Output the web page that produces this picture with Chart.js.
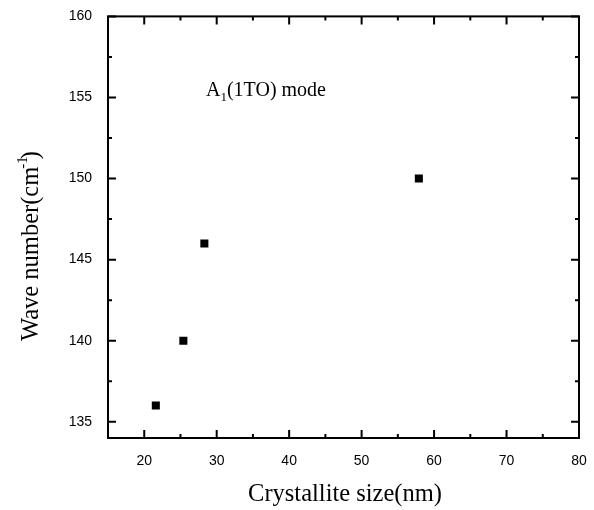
<!DOCTYPE html>
<html>
<head>
<meta charset="utf-8">
<script src="https://cdn.jsdelivr.net/npm/chart.js@4/dist/chart.umd.min.js"></script>
<style>
  html, body { margin: 0; padding: 0; background: #fff; }
  #wrap { width: 594px; height: 510px; position: relative; }
</style>
</head>
<body>
<div id="wrap"><canvas id="c"></canvas></div>
<script>
// 結晶尺寸 vs 波數
const crystalliteSize = [21.6, 25.4, 28.3, 57.9];
const waveNumber      = [136, 140, 146, 150];
const xTicks = [20, 30, 40, 50, 60, 70, 80];
const yTicks = [135, 140, 145, 150, 155, 160];

const SERIF = '"Liberation Serif", "Times New Roman", serif';
const SANS  = '"Liberation Sans", Arial, sans-serif';

// 四邊框線與向內刻度、座標軸標題
const framePlugin = {
  id: 'frame',
  afterDraw(chart) {
    const { ctx, chartArea: a, scales: { x, y } } = chart;
    ctx.save();
    ctx.strokeStyle = '#000';
    ctx.lineWidth = 2;
    ctx.strokeRect(a.left, a.top, a.right - a.left, a.bottom - a.top);

    ctx.beginPath();
    // x 主刻度 + 次刻度
    for (let v = 15; v <= 80; v += 5) {
      const px = x.getPixelForValue(v);
      const len = v % 10 === 0 ? 8 : 4;
      ctx.moveTo(px, a.bottom); ctx.lineTo(px, a.bottom - len);
      ctx.moveTo(px, a.top);    ctx.lineTo(px, a.top + len);
    }
    // y 主刻度 + 次刻度
    for (let v = 135; v <= 160; v += 2.5) {
      const py = y.getPixelForValue(v);
      const len = v % 5 === 0 ? 8 : 4;
      ctx.moveTo(a.left, py);  ctx.lineTo(a.left + len, py);
      ctx.moveTo(a.right, py); ctx.lineTo(a.right - len, py);
    }
    ctx.stroke();

    ctx.fillStyle = '#000';
    // 圖內註記 A1(1TO) mode
    ctx.textBaseline = 'alphabetic';
    ctx.textAlign = 'left';
    let tx = 206;
    ctx.font = '20px ' + SERIF;
    ctx.fillText('A', tx, 96); tx += ctx.measureText('A').width;
    ctx.font = '13px ' + SERIF;
    ctx.fillText('1', tx, 101); tx += ctx.measureText('1').width;
    ctx.font = '20px ' + SERIF;
    ctx.fillText('(1TO) mode', tx, 96);

    // x 標題
    const TF = '24.5px ' + SERIF;
    ctx.font = TF;
    ctx.textAlign = 'center';
    ctx.fillText('Crystallite size(nm)', 345, 501);

    // y 標題（含上標 -1）
    ctx.translate(38, 246);
    ctx.rotate(-Math.PI / 2);
    const main = 'Wave number(cm';
    ctx.font = TF;
    const wMain = ctx.measureText(main).width;
    ctx.font = '15px ' + SERIF;
    const wSup = ctx.measureText('-1').width;
    ctx.font = TF;
    const wClose = ctx.measureText(')').width;
    let sx = -(wMain + wSup * 0.6 + wClose) / 2;
    ctx.textAlign = 'left';
    ctx.fillText(main, sx, 0); sx += wMain;
    ctx.font = '15px ' + SERIF;
    ctx.fillText('-1', sx - 2, -11);
    ctx.font = TF;
    ctx.fillText(')', sx + wSup * 0.6, 0);
    ctx.restore();
  }
};

new Chart(document.getElementById('c'), {
  type: 'scatter',
  data: {
    datasets: [{
      data: crystalliteSize.map((v, i) => ({ x: v, y: waveNumber[i] })),
      pointStyle: 'rect',
      pointRadius: 5.7,
      pointHoverRadius: 5.7,
      backgroundColor: '#000',
      borderColor: '#000',
      borderWidth: 0
    }]
  },
  options: {
    responsive: true,
    maintainAspectRatio: false,
    animation: false,
    layout: { padding: { top: 16, right: 15, left: 0, bottom: 0 } },
    plugins: { legend: { display: false }, tooltip: { enabled: false } },
    scales: {
      x: {
        type: 'linear', min: 15, max: 80,
        afterFit: s => { s.height = 72; },
        afterBuildTicks: s => { s.ticks = xTicks.map(v => ({ value: v })); },
        grid: { display: false },
        border: { display: false },
        ticks: { color: '#000', padding: 7, font: { family: SANS, size: 14 } }
      },
      y: {
        type: 'linear', min: 134, max: 160,
        afterFit: s => { s.width = 108; },
        afterBuildTicks: s => { s.ticks = yTicks.map(v => ({ value: v })); },
        grid: { display: false },
        border: { display: false },
        ticks: { color: '#000', padding: 8, font: { family: SANS, size: 14 } }
      }
    }
  },
  plugins: [framePlugin]
});
</script>
</body>
</html>
